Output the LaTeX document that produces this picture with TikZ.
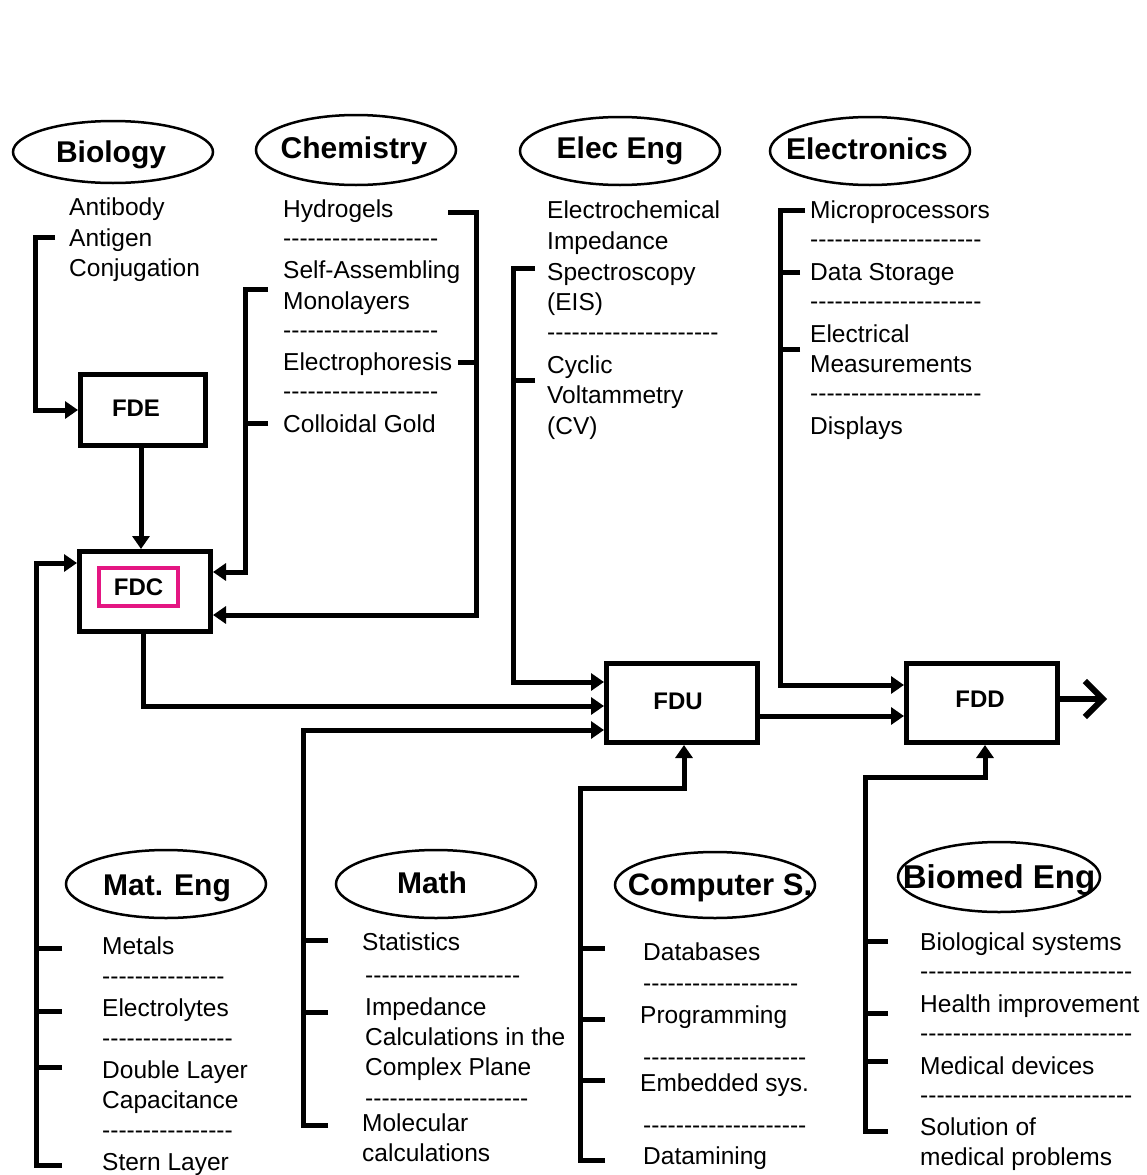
\documentclass[tikz,border=0pt]{standalone}
\usepackage{fontspec}
\setmainfont{Liberation Sans}
\usetikzlibrary{arrows.meta,shapes.geometric,calc}
\definecolor{mag}{RGB}{228,22,130}
\newcommand\hyph[1]{\foreach\k in {1,...,#1}{-\kern0pt}}
\begin{document}
\begin{tikzpicture}[x=1pt,y=-1pt,
  ell/.style={draw, ellipse, line width=2.5pt, inner sep=0pt},
  ttl/.style={anchor=base, inner sep=0pt, font=\fontsize{30}{36}\selectfont\bfseries},
  item/.style={anchor=base west, yshift=-8.8pt, inner sep=0pt, font=\fontsize{24.5}{30}\selectfont},
  dsh/.style={anchor=base west, yshift=-6.7pt, inner sep=0pt, font=\fontsize{24.5}{30}\selectfont},
  box/.style={draw, line width=5pt, rectangle, inner sep=0pt},
  blbl/.style={inner sep=0pt, font=\fontsize{24}{28}\selectfont\bfseries},
  conn/.style={line width=5pt},
  arr/.style={conn, -{Triangle[length=13pt,width=17pt]}},
]
\useasboundingbox (0,0) rectangle (1147,1175);
\fill[white] (0,0) rectangle (1147,1175);

% ---------- ellipses ----------
\node[ell, minimum width=200pt, minimum height=62pt] (bio) at (113,152) {};
\node[ttl] (biot) at (111,162) {Biology};
\node[ell, minimum width=200pt, minimum height=70pt] (chem) at (356,150) {};
\node[ttl] (chemt) at (354,158) {Chemistry};
\node[ell, minimum width=200pt, minimum height=68pt] (elec) at (620,151) {};
\node[ttl] (elect) at (620,158) {Elec Eng};
\node[ell, minimum width=200pt, minimum height=68pt] (eltr) at (870,151) {};
\node[ttl] (eltrt) at (867,159) {Electronics};
\node[ell, minimum width=200pt, minimum height=68pt] (mat) at (166,884) {};
\node[ttl] (matt) at (167,895) {Mat. Eng};
\node[ell, minimum width=200pt, minimum height=68pt] (math) at (436,884) {};
\node[ttl] (matht) at (432,893) {Math};
\node[ell, minimum width=200pt, minimum height=66pt] (comp) at (715,885) {};
\node[ttl, font=\fontsize{31}{36}\selectfont\bfseries] (compt) at (720,895) {Computer S.};
\node[ell, minimum width=202pt, minimum height=70pt] (bme) at (999,877) {};
\node[ttl, font=\fontsize{33}{38}\selectfont\bfseries] (bmet) at (999,888) {Biomed Eng};

% ---------- boxes ----------
\node[box, minimum width=125pt, minimum height=71pt] (fde) at (143,410) {};
\node[blbl] (fdet) at (136,408) {FDE};
\node[box, minimum width=131pt, minimum height=80pt] (fdc) at (145,591.5) {};
\node[draw=mag, line width=4pt, minimum width=79pt, minimum height=38pt, inner sep=0pt,
      font=\fontsize{24}{28}\selectfont\bfseries] (fdcl) at (138.5,587) {FDC};
\node[box, minimum width=151pt, minimum height=79pt] (fdu) at (682,703) {};
\node[blbl] (fdut) at (678,701) {FDU};
\node[box, minimum width=151pt, minimum height=79pt] (fdd) at (982,703) {};
\node[blbl] (fddt) at (980,699) {FDD};

% ---------- lists ----------
\node[item] (b1) at (69,207) {Antibody};
\node[item] (b2) at (69,238) {Antigen};
\node[item] (b3) at (69,268) {Conjugation};

\node[item] (c1) at (283,209) {Hydrogels};
\node[dsh]  (c2) at (283,240) {\hyph{19}};
\node[item] (c3) at (283,270) {Self-Assembling};
\node[item] (c4) at (283,301) {Monolayers};
\node[dsh]  (c5) at (283,332) {\hyph{19}};
\node[item] (c6) at (283,362) {Electrophoresis};
\node[dsh]  (c7) at (283,393) {\hyph{19}};
\node[item] (c8) at (283,424) {Colloidal Gold};

\node[item] (e1) at (547,210) {Electrochemical};
\node[item] (e2) at (547,241) {Impedance};
\node[item] (e3) at (547,272) {Spectroscopy};
\node[item] (e4) at (547,302) {(EIS)};
\node[dsh]  (e5) at (547,334) {\hyph{21}};
\node[item] (e6) at (547,365) {Cyclic};
\node[item] (e7) at (547,395) {Voltammetry};
\node[item] (e8) at (547,426) {(CV)};

\node[item] (t1) at (810,210) {Microprocessors};
\node[dsh]  (t2) at (810,241) {\hyph{21}};
\node[item] (t3) at (810,272) {Data Storage};
\node[dsh]  (t4) at (810,303) {\hyph{21}};
\node[item] (t5) at (810,334) {Electrical};
\node[item] (t6) at (810,364) {Measurements};
\node[dsh]  (t7) at (810,395) {\hyph{21}};
\node[item] (t8) at (810,426) {Displays};

\node[item] (m1) at (102,946) {Metals};
\node[dsh]  (m2) at (102,978) {\hyph{15}};
\node[item] (m3) at (102,1008) {Electrolytes};
\node[dsh]  (m4) at (102,1040) {\hyph{16}};
\node[item] (m5) at (102,1070) {Double Layer};
\node[item] (m6) at (102,1100) {Capacitance};
\node[dsh]  (m7) at (102,1132) {\hyph{16}};
\node[item] (m8) at (102,1162) {Stern Layer};

\node[item] (h1) at (362,942) {Statistics};
\node[dsh]  (h2) at (365,977) {\hyph{19}};
\node[item] (h3) at (365,1007) {Impedance};
\node[item] (h4) at (365,1037) {Calculations in the};
\node[item] (h5) at (365,1067) {Complex Plane};
\node[dsh]  (h6) at (365,1100) {\hyph{20}};
\node[item] (h7) at (362,1123) {Molecular};
\node[item] (h8) at (362,1153) {calculations};

\node[item] (s1) at (643,952) {Databases};
\node[dsh]  (s2) at (643,985) {\hyph{19}};
\node[item] (s3) at (640,1015) {Programming};
\node[dsh]  (s4) at (643,1059) {\hyph{20}};
\node[item] (s5) at (640,1083) {Embedded sys.};
\node[dsh]  (s6) at (643,1127) {\hyph{20}};
\node[item] (s7) at (643,1156) {Datamining};

\node[item] (d1) at (920,942) {Biological systems};
\node[dsh]  (d2) at (920,973) {\hyph{26}};
\node[item] (d3) at (920,1004) {Health improvement};
\node[dsh]  (d4) at (920,1035) {\hyph{26}};
\node[item] (d5) at (920,1066) {Medical devices};
\node[dsh]  (d6) at (920,1097) {\hyph{26}};
\node[item] (d7) at (920,1127) {Solution of};
\node[item] (d8) at (920,1157) {medical problems};

% ---------- connector start points ----------
\coordinate (bioS) at (55,237);
\coordinate (chL1) at (268,289);
\coordinate (chL2) at (268,423);
\coordinate (chR1) at (448,212);
\coordinate (chR2) at (458,362);
\coordinate (eeS1) at (535,268);
\coordinate (eeS2) at (535,380);
\coordinate (elS1) at (805,210);
\coordinate (elS2) at (800,272);
\coordinate (elS3) at (800,349);
\coordinate (maS1) at (62,948);
\coordinate (maS2) at (62,1011);
\coordinate (maS3) at (62,1067);
\coordinate (maS4) at (62,1165);
\coordinate (mtS1) at (328,940);
\coordinate (mtS2) at (328,1012);
\coordinate (mtS3) at (328,1125);
\coordinate (csS1) at (605,948);
\coordinate (csS2) at (605,1019);
\coordinate (csS3) at (605,1080);
\coordinate (csS4) at (605,1160);
\coordinate (bmS1) at (888,941);
\coordinate (bmS2) at (888,1013);
\coordinate (bmS3) at (888,1061);
\coordinate (bmS4) at (888,1131);
\coordinate (out) at (1107,699);

% ---------- connectors ----------
\draw[arr] (bioS) -- (35,237) |- (fde.west);
\draw[arr] ([xshift=-2pt]fde.south) -- ([xshift=-2pt]fde.south |- fdc.north);

\draw[arr] (chL1) -- (245,289) |- ([yshift=19.5pt]fdc.east);
\draw[conn] (chL2) -- (245,423);
\draw[arr] (chR1) -- (476,212) |- ([yshift=-23.5pt]fdc.east);
\draw[conn] (chR2) -- (476,362);

\draw[arr] (eeS1) -- (513,268) |- ([yshift=21pt]fdu.west);
\draw[conn] (eeS2) -- (513,380);

\draw[arr] (elS1) -- (780,210) |- ([yshift=18pt]fdd.west);
\draw[conn] (elS2) -- (780,272);
\draw[conn] (elS3) -- (780,349);

\draw[arr] ([xshift=-2pt]fdc.south) |- ([yshift=-3pt]fdu.west);

\draw[arr] (mtS3) -- (303,1125) |- ([yshift=-27pt]fdu.west);
\draw[conn] (mtS1) -- (303,940);
\draw[conn] (mtS2) -- (303,1012);

\draw[arr] (maS4) -- (36,1165) |- ([yshift=28.5pt]fdc.west);
\draw[conn] (maS1) -- (36,948);
\draw[conn] (maS2) -- (36,1011);
\draw[conn] (maS3) -- (36,1067);

\draw[arr] (csS4) -- (580,1160) -- (580,788) -| ([xshift=2pt]fdu.south);
\draw[conn] (csS1) -- (580,948);
\draw[conn] (csS2) -- (580,1019);
\draw[conn] (csS3) -- (580,1080);

\draw[arr] (bmS4) -- (865,1131) -- (865,777) -| ([xshift=3pt]fdd.south);
\draw[conn] (bmS1) -- (865,941);
\draw[conn] (bmS2) -- (865,1013);
\draw[conn] (bmS3) -- (865,1061);

\draw[arr] ([yshift=-13pt]fdu.east) -- ([yshift=-13pt]fdd.west);
\draw[line width=6pt, -{Straight Barb[length=18pt,width=36pt]}] ([yshift=4pt]fdd.east) -- (out);
\end{tikzpicture}
\end{document}
